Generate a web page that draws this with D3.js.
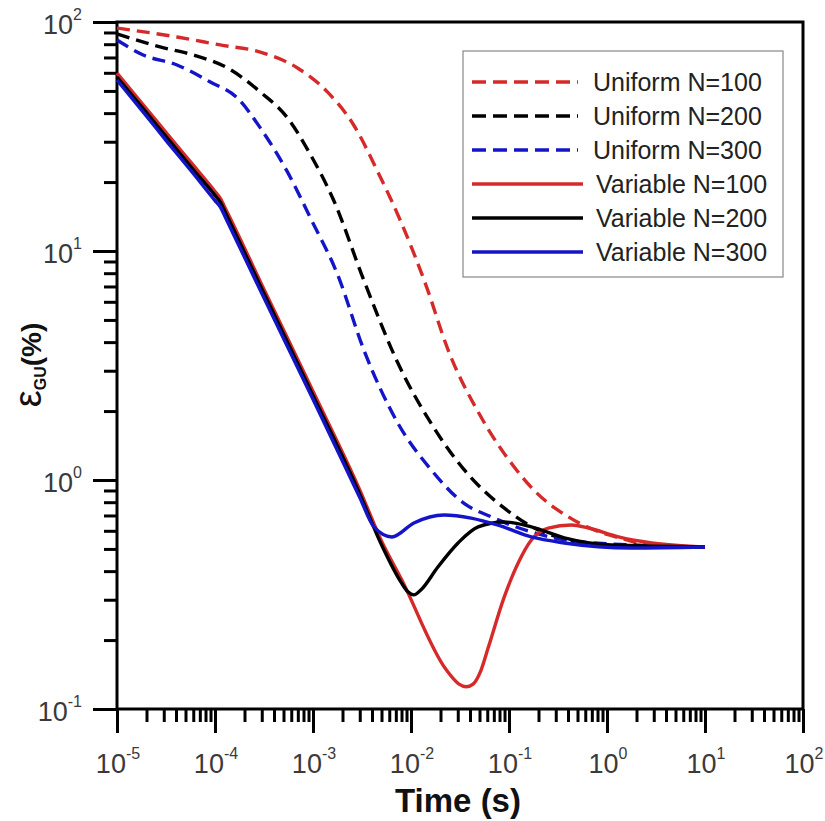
<!DOCTYPE html>
<html><head><meta charset="utf-8">
<script src="https://cdn.jsdelivr.net/npm/d3@7"></script>
<style>body{margin:0;background:#fff}</style>
</head><body>
<svg id="c" width="825" height="821" xmlns="http://www.w3.org/2000/svg"></svg>
<script>
// ---- data ----
const seriesNames = ["Uniform N=100","Uniform N=200","Uniform N=300","Variable N=100","Variable N=200","Variable N=300"];
const seriesColors = ["#d62a2a","#000000","#1414c8","#d62a2a","#000000","#1414c8"];
const seriesDashed = [true,true,true,false,false,false];

const uniform100_t = [1e-5,4.1e-5,1.13e-4,2.9e-4,6.95e-4,1.41e-3,2.6e-3,4.6e-3,7.9e-3,1.42e-2,2.39e-2,5.2e-2,0.113,0.181,0.404,0.647,1.31,2.85,10];
const uniform100_v = [94.1,86,79.4,73.9,63,49.4,35.5,22.1,13.4,7.1,3.70,1.88,1.14,0.90,0.69,0.62,0.56,0.52,0.51];

const uniform200_t = [1e-5,2.75e-5,6.0e-5,1.34e-4,2.91e-4,5.5e-4,9.45e-4,1.62e-3,3.3e-3,7.35e-3,1.6e-2,3.48e-2,8.9e-2,0.181,0.404,1.11,10];
const uniform200_v = [88.7,77.8,71.8,63,49.4,38.1,26.3,16.7,7.46,3.24,1.77,1.11,0.755,0.617,0.547,0.515,0.51];

const uniform300_t = [1e-5,1.85e-5,4.1e-5,8.95e-5,1.69e-4,2.91e-4,5.5e-4,9.45e-4,1.79e-3,3.3e-3,7.35e-3,1.6e-2,3.48e-2,6.6e-2,0.169,0.548,10];
const uniform300_v = [83.4,71.8,64.9,54.7,46.6,34.4,22.1,13.9,7.85,3.70,1.77,1.11,0.79,0.69,0.593,0.536,0.51];

const variable100_t = [1e-5,2e-5,3.33e-5,6e-5,1e-4,1.13e-4,1.3e-4,3e-4,1e-3,3e-3,5e-3,7.9e-3,2.27e-2,3.09e-2,3.65e-2,4.3e-2,5.19e-2,6.12e-2,8.93e-2,0.124,0.169,0.252,0.434,0.647,1.31,2.85,6.2,10];
const variable100_v = [59.8,41.8,32.1,23.7,18.2,17.0,15.1,7.13,2.44,0.906,0.542,0.372,0.149,0.1285,0.125,0.1285,0.148,0.1845,0.308,0.434,0.547,0.617,0.636,0.617,0.564,0.531,0.515,0.51];

const variable200_t = [1e-5,2e-5,3.33e-5,6e-5,1e-4,1.13e-4,1.3e-4,3e-4,1e-3,3e-3,5e-3,7.9e-3,9.3e-3,1.07e-2,1.26e-2,1.88e-2,3.02e-2,4.84e-2,8.93e-2,0.169,0.367,1.11,10];
const variable200_v = [57.5,40.2,30.8,22.7,17.5,16.4,14.5,6.84,2.34,0.869,0.521,0.358,0.325,0.315,0.331,0.417,0.531,0.624,0.656,0.624,0.559,0.52,0.51];

const variable300_t = [1e-5,2e-5,3.33e-5,6e-5,1e-4,1.13e-4,1.3e-4,3e-4,1e-3,3e-3,4.17e-3,6.37e-3,1.07e-2,2.17e-2,4.1e-2,7.75e-2,0.169,0.367,1.78,10];
const variable300_v = [55.8,38.8,29.6,21.8,16.6,15.6,13.8,6.53,2.25,0.839,0.625,0.564,0.649,0.703,0.682,0.635,0.564,0.531,0.505,0.51];

const xTickExponents = [-5,-4,-3,-2,-1,0,1,2];
const yTickExponents = [-1,0,1,2];
const xLabel = "Time (s)";

// ---- layout ----
const svg = d3.select("#c");
const L = 117, T = 22, R = 803, B = 709;
const x = d3.scaleLog().domain([1e-5, 1e2]).range([L, R]);
const y = d3.scaleLog().domain([1e-1, 1e2]).range([B, T]);

const seriesT = [uniform100_t, uniform200_t, uniform300_t, variable100_t, variable200_t, variable300_t];
const seriesV = [uniform100_v, uniform200_v, uniform300_v, variable100_v, variable200_v, variable300_v];

function minors(lo, hi) {
  const out = [];
  for (let e = lo; e < hi; e++) for (let m = 2; m <= 9; m++) out.push(m * Math.pow(10, e));
  return out;
}
const xMajor = xTickExponents.map(e => Math.pow(10, e));
const yMajor = yTickExponents.map(e => Math.pow(10, e));

const gxMin = svg.append("g").attr("transform", `translate(0,${B})`)
  .call(d3.axisBottom(x).tickValues(minors(-5, 2)).tickSize(13).tickFormat(""));
const gxMaj = svg.append("g").attr("transform", `translate(0,${B})`)
  .call(d3.axisBottom(x).tickValues(xMajor).tickSize(24).tickFormat(""));
const gyMin = svg.append("g").attr("transform", `translate(${L},0)`)
  .call(d3.axisLeft(y).tickValues(minors(-1, 2)).tickSize(13).tickFormat(""));
const gyMaj = svg.append("g").attr("transform", `translate(${L},0)`)
  .call(d3.axisLeft(y).tickValues(yMajor).tickSize(24).tickFormat(""));
[gxMin, gxMaj, gyMin, gyMaj].forEach(g => {
  g.select(".domain").remove();
  g.selectAll(".tick line").attr("stroke", "#000").attr("stroke-width", 3);
});

svg.append("rect").attr("x", L).attr("y", T).attr("width", R - L).attr("height", B - T)
  .attr("fill", "none").attr("stroke", "#000").attr("stroke-width", 3);

const fontFam = "'Liberation Sans', Arial, Helvetica, sans-serif";
xTickExponents.forEach(e => {
  const t = svg.append("text").attr("x", x(Math.pow(10, e)) + 1).attr("y", 773)
    .attr("text-anchor", "middle").attr("font-family", fontFam).attr("font-size", 27).attr("fill", "#3a3a3a");
  t.append("tspan").text("10");
  t.append("tspan").attr("dy", -14).attr("font-size", 16).text(String(e));
});
yTickExponents.forEach(e => {
  const t = svg.append("text").attr("x", 82).attr("y", y(Math.pow(10, e)) + 12)
    .attr("text-anchor", "end").attr("font-family", fontFam).attr("font-size", 27).attr("fill", "#3a3a3a");
  t.append("tspan").text("10");
  t.append("tspan").attr("dy", -14).attr("font-size", 16).text(String(e));
});

svg.append("text").attr("x", 458).attr("y", 812).attr("text-anchor", "middle")
  .attr("font-family", fontFam).attr("font-weight", "bold").attr("font-size", 33).attr("fill", "#111")
  .text(xLabel);
const yt = svg.append("text").attr("transform", "translate(41,365) rotate(-90)")
  .attr("text-anchor", "middle").attr("font-family", fontFam).attr("fill", "#111");
yt.append("tspan").attr("font-size", 38).text("ε");
yt.append("tspan").attr("font-size", 16).attr("font-weight", "bold").attr("dy", 5).text("GU");
yt.append("tspan").attr("font-size", 28).attr("font-weight", "bold").attr("dy", -5).text("(%)");

const line = d3.line().x(d => x(d[0])).y(d => y(d[1])).curve(d3.curveMonotoneX);
const plot = svg.append("g");
seriesNames.forEach((n, i) => {
  const pts = seriesT[i].map((t, k) => [t, seriesV[i][k]]);
  plot.append("path").datum(pts).attr("d", line)
    .attr("fill", "none").attr("stroke", seriesColors[i]).attr("stroke-width", 3.4)
    .attr("stroke-dasharray", seriesDashed[i] ? "13,7" : null)
    .attr("stroke-linejoin", "round");
});

const lg = svg.append("g");
lg.append("rect").attr("x", 463).attr("y", 51).attr("width", 320).attr("height", 226)
  .attr("fill", "#fff").attr("stroke", "#888").attr("stroke-width", 1.2);
seriesNames.forEach((n, i) => {
  const cy = 82 + i * 34;
  lg.append("line").attr("x1", 472).attr("x2", seriesDashed[i] ? 578 : 583).attr("y1", cy).attr("y2", cy)
    .attr("stroke", seriesColors[i]).attr("stroke-width", 3.5)
    .attr("stroke-dasharray", seriesDashed[i] ? "14,7" : null);
  lg.append("text").attr("x", seriesDashed[i] ? 593 : 596).attr("y", cy + 9)
    .attr("font-family", fontFam).attr("font-size", 25).attr("fill", "#222").text(n);
});
</script>
</body></html>
